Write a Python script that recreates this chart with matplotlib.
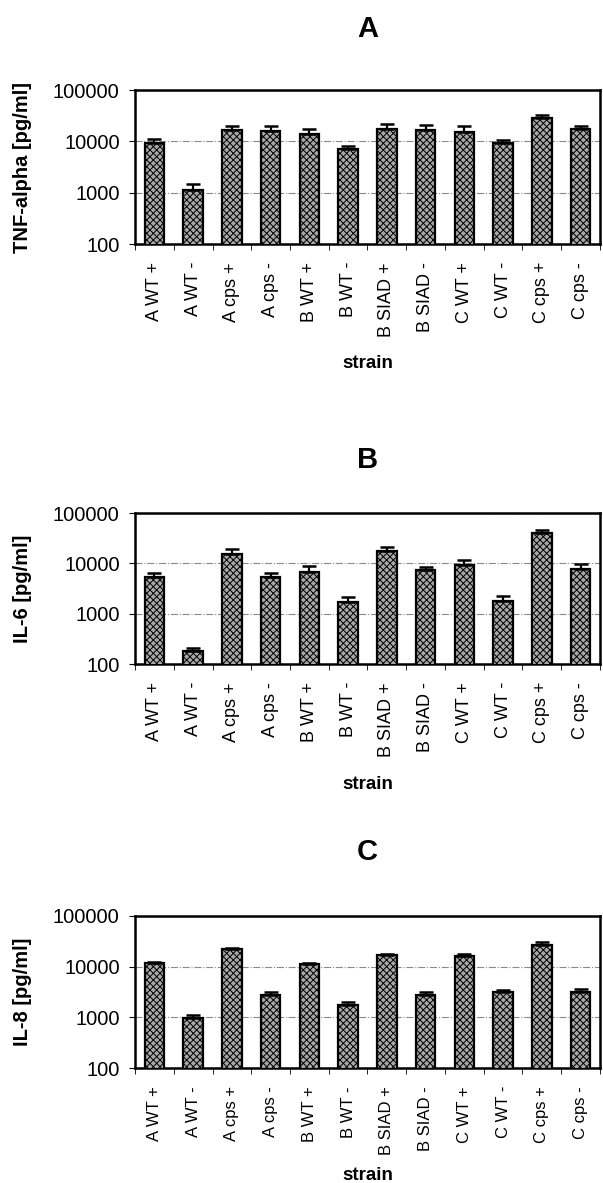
import matplotlib
matplotlib.use('Agg')
import matplotlib.pyplot as plt
import numpy as np

plt.rcParams['font.family'] = ['Liberation Sans', 'DejaVu Sans']
plt.rcParams['hatch.color'] = '#4a4a4a'
plt.rcParams['hatch.linewidth'] = 0.7

strains = ['A WT +', 'A WT -', 'A cps +', 'A cps -', 'B WT +', 'B WT -',
           'B SIAD +', 'B SIAD -', 'C WT +', 'C WT -', 'C cps +', 'C cps -']

tnf = [9500, 1150, 17000, 16000, 14000, 7200, 17500, 16500, 15500, 9300, 28000, 17500]
tnf_err = [1500, 300, 3000, 4000, 3500, 1000, 4500, 4000, 4000, 1200, 5000, 2000]

il6 = [5300, 180, 15500, 5400, 6800, 1700, 17500, 7400, 9500, 1750, 41000, 7700]
il6_err = [1000, 30, 4000, 900, 1900, 400, 4000, 1000, 2000, 450, 6000, 2000]

il8 = [12000, 950, 22000, 2700, 11500, 1750, 17000, 2700, 16000, 3200, 27000, 3200]
il8_err = [500, 150, 1000, 400, 500, 250, 800, 400, 2000, 200, 4000, 500]

# letter, y label, values, errors, axes rect, title y, xlabel offset, tick font
panels = [('A', 'TNF-alpha [pg/ml]', tnf, tnf_err, [0.2239, 0.7937, 0.7711, 0.1302], 29, 111, 13),
          ('B', 'IL-6 [pg/ml]', il6, il6_err, [0.2239, 0.4387, 0.7711, 0.1276], 460, 112, 13),
          ('C', 'IL-8 [pg/ml]', il8, il8_err, [0.2239, 0.0972, 0.7711, 0.1285], 852, 99, 12)]

fig = plt.figure(figsize=(6.03, 11.83), dpi=100)
x = np.arange(len(strains))

for letter, ylab, vals, errs, pos, ty, xoff, tfs in panels:
    ax = fig.add_axes(pos)
    ax.bar(x, vals, width=0.5, color='#a8a8a8', edgecolor='black', linewidth=1.6,
           hatch='xxxxx', zorder=3)
    ax.errorbar(x, vals, yerr=[np.zeros(len(errs)), errs], fmt='none', ecolor='black',
                elinewidth=1.6, capsize=5, capthick=1.8, zorder=4)
    ax.set_yscale('log')
    ax.set_ylim(100, 100000)
    ax.set_xlim(-0.5, len(strains) - 0.5)
    ax.set_yticks([100, 1000, 10000, 100000])
    ax.set_yticklabels(['100', '1000', '10000', '100000'], fontsize=14.5)
    ax.yaxis.set_minor_locator(matplotlib.ticker.NullLocator())
    ax.tick_params(axis='y', length=4, pad=7)
    ax.yaxis.grid(True, color='#8a8a8a', linestyle='-.', linewidth=0.8, zorder=0)
    ax.set_xticks(x)
    ax.set_xticklabels(strains, rotation=90, fontsize=tfs)
    ax.set_xticks(np.arange(-0.5, len(strains)), minor=True)
    ax.tick_params(axis='x', which='major', length=0, pad=13)
    ax.tick_params(axis='x', which='minor', length=4)
    ax.set_ylabel(ylab, fontsize=14.5, fontweight='bold')
    ax.yaxis.set_label_coords(-0.222, 0.5)
    ax.set_xlabel('strain', fontsize=13.5, fontweight='bold')
    ax.xaxis.set_label_coords(0.5, -xoff / (pos[3] * 1183))
    fig.text(0.5 * (pos[0] * 2 + pos[2]), 1 - ty / 1183, letter, fontsize=21,
             fontweight='bold', ha='center', va='center')
    for s in ax.spines.values():
        s.set_linewidth(1.8)

fig.savefig('out.png', dpi=100)
